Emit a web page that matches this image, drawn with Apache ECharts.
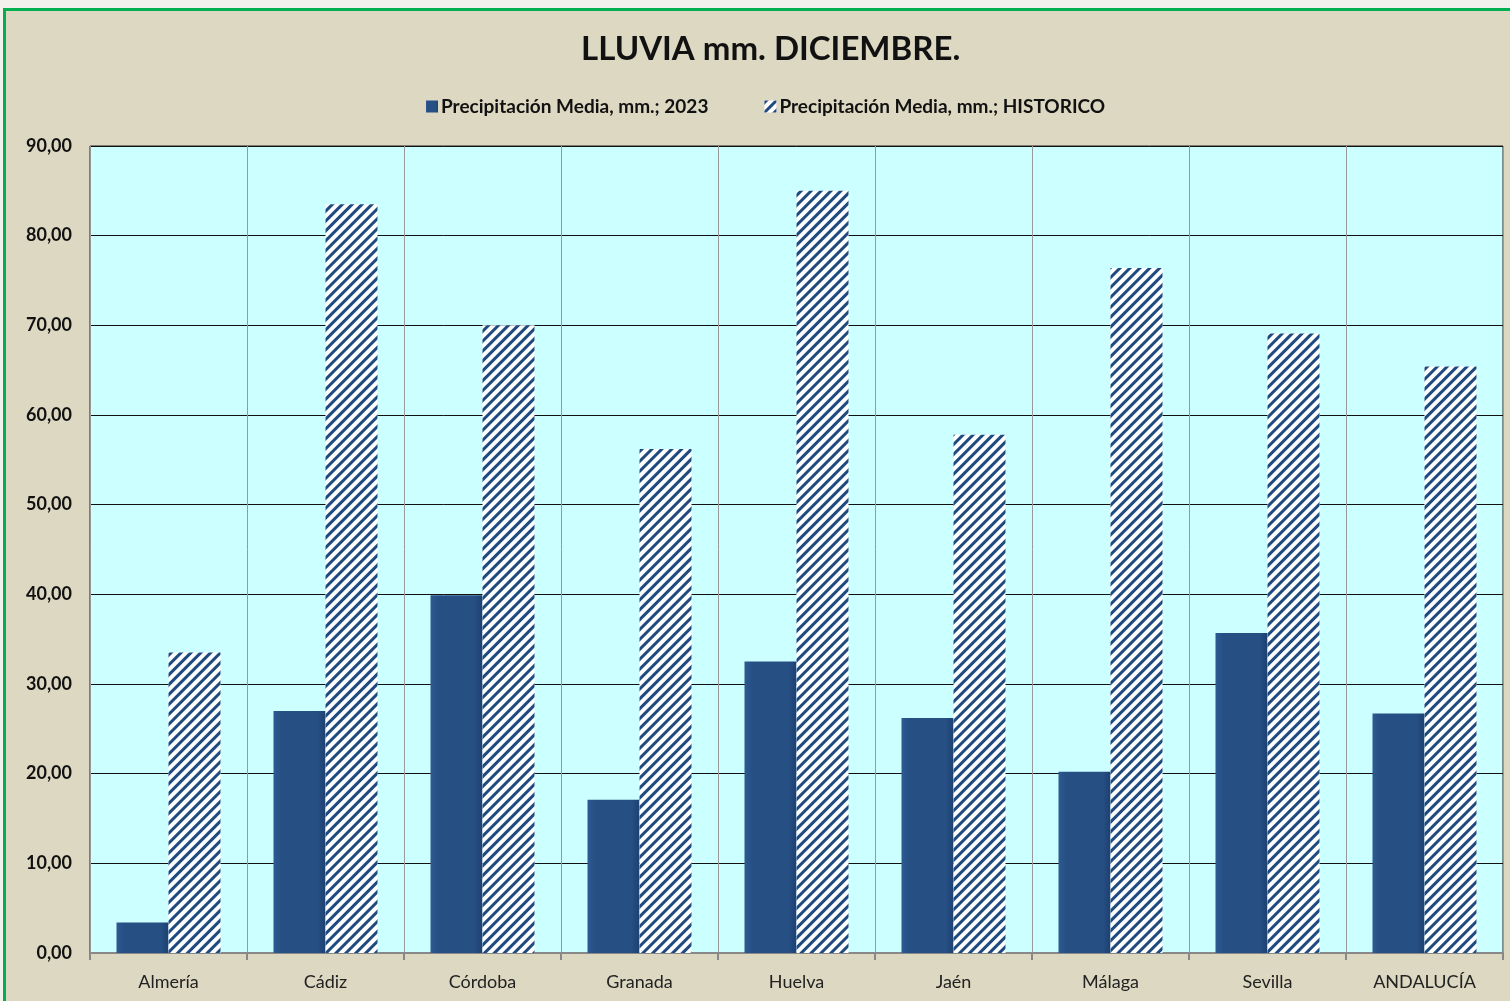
<!DOCTYPE html>
<html>
<head>
<meta charset="utf-8">
<script src="https://cdn.jsdelivr.net/npm/echarts@6/dist/echarts.min.js"></script>
<style>
	html, body { margin: 0; padding: 0; background: #f2f1ec; }
	#frame {
		position: absolute; left: 3px; top: 8px; width: 1510px; height: 1000px;
		background: #ddd8c2; border: 3px solid #00b050; box-sizing: border-box;
	}
	#chart { position: absolute; left: 0; top: 0; width: 1510px; height: 1001px; }
</style>
</head>
<body>
<div id="frame"></div>
<div id="chart"></div>
<script>
	// datos
	const provincias = ['Almería', 'Cádiz', 'Córdoba', 'Granada', 'Huelva', 'Jaén', 'Málaga', 'Sevilla', 'ANDALUCÍA'];
	const lluvia2023 = [3.4, 27.0, 39.9, 17.1, 32.5, 26.2, 20.2, 35.7, 26.7];
	const lluviaHistorico = [33.5, 83.5, 70.0, 56.2, 85.0, 57.8, 76.4, 69.1, 65.4];
	const nombres = ['Precipitación Media, mm.; 2023', 'Precipitación Media, mm.; HISTORICO'];

	const fuente = 'Lato, "Open Sans", sans-serif';
	let chart = echarts.init(document.getElementById('chart'));
	const option = {
		animation: false,
		title: {
			text: 'LLUVIA mm. DICIEMBRE.',
			left: 576,
			top: 28,
			textStyle: { fontFamily: fuente, fontSize: 33, fontWeight: 'bold', color: '#111' }
		},
		legend: {
			top: 92,
			left: 421,
			icon: 'rect',
			itemWidth: 12,
			itemHeight: 12,
			itemGap: 56,
			textStyle: { fontFamily: fuente, fontSize: 19, fontWeight: 'bold', color: '#111', padding: [0, 0, 0, -2] },
			data: nombres
		},
		grid: {
			left: 90,
			right: 7,
			top: 146,
			bottom: 48,
			show: true,
			backgroundColor: '#ccffff',
			borderColor: '#222',
			borderWidth: 1
		},
		xAxis: {
			type: 'category',
			data: provincias,
			axisLine: { lineStyle: { color: '#888', width: 2 } },
			axisTick: { show: true, length: 7, lineStyle: { color: '#888', width: 2 } },
			splitLine: { show: true, lineStyle: { color: '#999', width: 1 } },
			axisLabel: { fontFamily: fuente, fontSize: 18, color: '#222', margin: 20 }
		},
		yAxis: {
			type: 'value',
			min: 0,
			max: 90,
			interval: 10,
			axisLine: { show: false },
			splitLine: { lineStyle: { color: '#111', width: 1 } },
			axisLabel: {
				fontFamily: fuente, fontSize: 18, fontWeight: 'bold', color: '#111', margin: 18,
				formatter: v => v.toFixed(2).replace('.', ',')
			}
		},
		series: [
			{
				name: nombres[0],
				type: 'bar',
				barWidth: 52,
				barGap: '0%',
				data: lluvia2023,
				itemStyle: {
					color: new echarts.graphic.LinearGradient(0, 0, 1, 0, [
						{ offset: 0, color: '#2d5a92' },
						{ offset: 0.15, color: '#264f84' },
						{ offset: 0.85, color: '#264f84' },
						{ offset: 1, color: '#1d4070' }
					])
				}
			},
			{
				name: nombres[1],
				type: 'bar',
				barWidth: 52,
				data: lluviaHistorico,
				itemStyle: {
					color: '#ffffff',
					decal: {
						symbol: 'rect',
						symbolSize: 1,
						dashArrayX: [1, 0],
						dashArrayY: [3, 3.4],
						rotation: -Math.PI / 4,
						color: '#1f4a80'
					}
				}
			}
		]
	};
	chart.setOption(option);
	window.addEventListener('resize', () => {
		chart.resize();
	});
</script>
</body>
</html>
